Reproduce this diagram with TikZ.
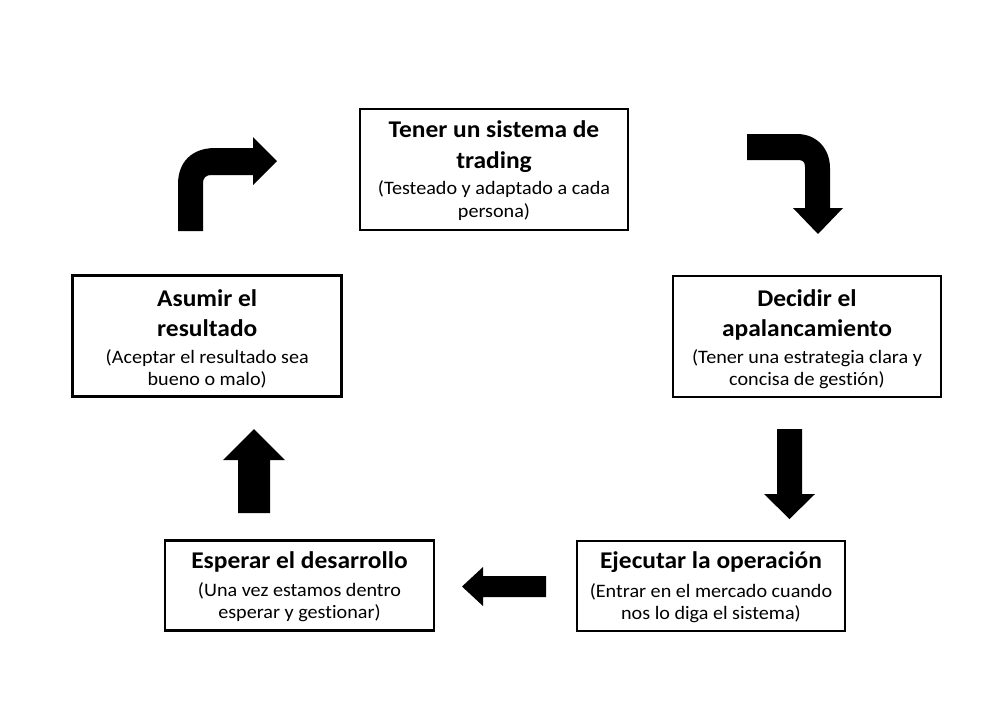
\documentclass[tikz,border=0pt]{standalone}
\usepackage{fontspec}
\setmainfont{Carlito}[FakeStretch=1.06, Ligatures={NoCommon}]
\begin{document}
\begin{tikzpicture}[x=1pt,y=-1pt,
  box/.style={draw=black, line width=2.6pt, inner sep=0pt},
  ttl/.style={anchor=base, inner sep=0pt, font=\fontsize{24}{30}\selectfont\bfseries},
  sub/.style={anchor=base, inner sep=0pt, font=\fontsize{19}{22}\selectfont},
  arr/.style={fill=black}]
\useasboundingbox[fill=white] (0,0) rectangle (993,724);
% boxes
\node[box, minimum width=268pt, minimum height=121pt] (top) at (494,169.5) {};
\node[box, minimum width=268pt, minimum height=121pt] (right) at (807,336.5) {};
\node[box, minimum width=269pt, minimum height=121pt] (left) at (207.25,336) {};
\node[box, minimum width=268pt, minimum height=90pt] (bright) at (711,586) {};
\node[box, minimum width=269pt, minimum height=90pt] (bleft) at (299.5,585.5) {};
% texts top
\node[ttl] (top1) at (494,137.5) {Tener un sistema de};
\node[ttl] (top2) at (494,168) {trading};
\node[sub] (top3) at (494,194.5) {(Testeado y adaptado a cada};
\node[sub] (top4) at (494,217) {persona)};
% right
\node[ttl] (r1) at (807,306) {Decidir el};
\node[ttl] (r2) at (807,336) {apalancamiento};
\node[sub] (r3) at (807,363.5) {(Tener una estrategia clara y};
\node[sub] (r4) at (807,385.5) {concisa de gestión)};
% left
\node[ttl] (l1) at (207.25,306) {Asumir el};
\node[ttl] (l2) at (207.25,336) {resultado};
\node[sub] (l3) at (207.25,363.5) {(Aceptar el resultado sea};
\node[sub] (l4) at (207.25,385.5) {bueno o malo)};
% bottom right
\node[ttl] (br1) at (711,568.5) {Ejecutar la operación};
\node[sub] (br2) at (711,597) {(Entrar en el mercado cuando};
\node[sub] (br3) at (711,619) {nos lo diga el sistema)};
% bottom left
\node[ttl] (bl1) at (299.5,568) {Esperar el desarrollo};
\node[sub] (bl2) at (299.5,596.5) {(Una vez estamos dentro};
\node[sub] (bl3) at (299.5,618.5) {esperar y gestionar)};
% arrows
\fill[arr] (178,231) -- (178,184) .. controls (178,162) and (192,148) .. (215,148) -- (253,148) -- (253,137) -- (277,161) -- (253,185) -- (253,175) -- (211,175) .. controls (206,175) and (203,178) .. (203,183) -- (203,231) -- cycle;
\fill[arr] (747,134) -- (797,134) .. controls (817,134) and (830,149) .. (830,168) -- (830,208) -- (843,208) -- (818,234) -- (793,208) -- (805,208) -- (805,167) .. controls (805,162) and (803,160) .. (798,160) -- (747,160) -- cycle;
\fill[arr] (777,429) -- (802,429) -- (802,494) -- (815,494) -- (789.5,519) -- (764,494) -- (777,494) -- cycle;
\fill[arr] (546,576) -- (546,597) -- (483,597) -- (483,606) -- (462,586.5) -- (483,567) -- (483,576) -- cycle;
\fill[arr] (238,513) -- (238,460) -- (223,460) -- (254,429) -- (285,460) -- (270,460) -- (270,513) -- cycle;
\end{tikzpicture}
\end{document}
